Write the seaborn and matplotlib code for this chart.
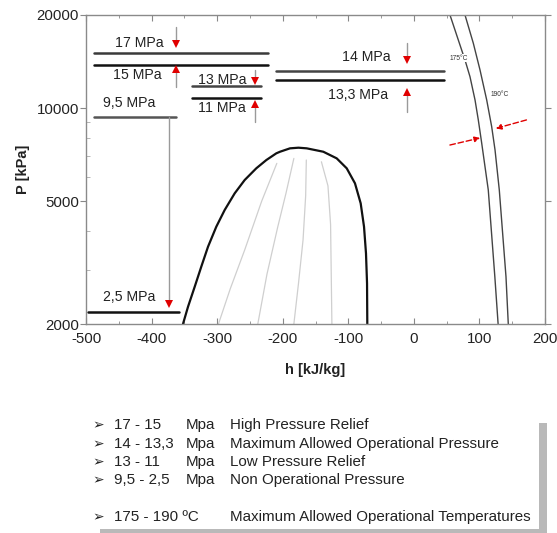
import numpy as np
import matplotlib
matplotlib.use("Agg")
import matplotlib.pyplot as plt
from matplotlib.patches import Rectangle
from matplotlib.ticker import FixedLocator, FixedFormatter, MultipleLocator, NullFormatter
import seaborn as sns

sns.set_style("ticks")
plt.rcParams['font.family'] = ['Liberation Sans', 'DejaVu Sans']
plt.rcParams['axes.unicode_minus'] = False

# ---------------- data ----------------
# saturation dome (h [kJ/kg], P [kPa])
dome_h = [-352.1, -344.4, -334.2, -324.2, -313.9, -301.3, -288.5, -273.2, -258.0, -240.3,
          -225.0, -209.8, -204.1, -188.9, -176.0, -163.4, -138.1, -117.7, -102.4, -89.8,
          -81.1, -76.0, -73.0, -71.4, -71.0]
dome_p = [2000, 2275, 2641, 3065, 3558, 4129, 4677, 5297, 5848, 6381,
          6786, 7134, 7220, 7405, 7440, 7405, 7220, 6873, 6381, 5706,
          4916, 4129, 3386, 2708, 2000]

# quality lines inside dome
q1_h = [-209, -232, -258, -280, -298]; q1_p = [6620, 5000, 3472, 2600, 2000]
q2_h = [-183, -195, -207.5, -224, -238]; q2_p = [6870, 5300, 4129, 2900, 2000]
q3_h = [-164, -165, -169, -176, -183]; q3_p = [6790, 5200, 3740, 2700, 2000]
q4_h = [-141, -131, -127, -126, -125]; q4_p = [6700, 5600, 4200, 2900, 2000]

# isotherms
iso175_h = [55.1, 67.8, 78.0, 85.6, 93.3, 98.3, 103.5, 108.5, 113.5, 123.5, 128.5]
iso175_p = [20000, 16600, 14300, 12630, 10615, 9146, 7688, 6459, 5429, 2845, 2000]
iso190_h = [78.0, 90.7, 100.9, 111.1, 118.7, 123.8, 130.3, 140.5, 144.0]
iso190_p = [20000, 16200, 13275, 10615, 8699, 7314, 5429, 2845, 2000]

# pressure levels (as drawn)
level_labels = ['17 MPa', '15 MPa', '13 MPa', '11 MPa', '14 MPa', '13,3 MPa', '9,5 MPa', '2,5 MPa']
level_p = [15070, 13770, 11780, 10750, 13200, 12320, 9370, 2183]
level_h0 = [-488, -488, -338, -338, -210, -210, -488, -497]
level_h1 = [-223, -223, -233, -233, 46, 46, -363, -358]
label_h = [-456, -459, -329, -329, -110, -131, -474, -474]
label_p = [16230, 12790, 12330, 10000, 14620, 11020, 10380, 2443]

# arrows: stem (h, p_from, p_to) and head direction
arrow_h = [-363, -363, -242, -242, -10.5, -10.5, -373]
arrow_stem_p0 = [18290, 13370, 13280, 10300, 16230, 11270, 9370]
arrow_head_p = [16110, 13370, 12220, 10300, 14290, 11270, 2330]
arrow_stem_p1 = [16110, 11690, 12220, 9010, 14290, 9700, 2330]
arrow_dir = ['v', '^', 'v', '^', 'v', '^', 'v']

# legend texts
legend_ranges = ['17 - 15', '14 - 13,3', '13 - 11', '9,5 - 2,5', '175 - 190 ºC']
legend_units = ['Mpa', 'Mpa', 'Mpa', 'Mpa', '']
legend_desc = ['High Pressure Relief', 'Maximum Allowed Operational Pressure',
               'Low Pressure Relief', 'Non Operational Pressure',
               'Maximum Allowed Operational Temperatures']

# ---------------- figure ----------------
W, H = 557, 533
fig = plt.figure(figsize=(W / 100, H / 100), dpi=100)
ax = fig.add_axes([86 / W, 1 - 324 / H, (545 - 86) / W, (324 - 15) / H])
ax.set_yscale('log')


def seg(x, y, **kw):
    sns.lineplot(x=x, y=y, sort=False, estimator=None, ax=ax, legend=False, **kw)


seg(dome_h, dome_p, color='#111111', lw=1.6)
for qh, qp in [(q1_h, q1_p), (q2_h, q2_p), (q3_h, q3_p), (q4_h, q4_p)]:
    seg(qh, qp, color='#cfcfcf', lw=0.9)
seg(iso175_h, iso175_p, color='#444444', lw=1.0)
seg(iso190_h, iso190_p, color='#444444', lw=1.0)

level_colors = ['#3a3a3a', '#111111', '#444444', '#111111', '#444444', '#111111', '#555555', '#111111']
for i in range(len(level_p)):
    seg([level_h0[i], level_h1[i]], [level_p[i], level_p[i]], color=level_colors[i], lw=1.8)
    ax.text(label_h[i], label_p[i], level_labels[i], fontsize=10.2, color='#222222',
            ha='left', va='center')

for i in range(len(arrow_h)):
    seg([arrow_h[i], arrow_h[i]], [arrow_stem_p0[i], arrow_stem_p1[i]], color='#9a9a9a', lw=1.0)
    ax.plot([arrow_h[i]], [arrow_head_p[i]], marker=arrow_dir[i], color='#e00000',
            markersize=6, markeredgewidth=0, zorder=5)

# isotherm labels
ax.text(68, 14480, '175°C', fontsize=4.8, ha='center', va='center', color='#333333',
        bbox=dict(facecolor='white', edgecolor='none', pad=0.3))
ax.text(131, 11020, '190°C', fontsize=4.8, ha='center', va='center', color='#333333',
        bbox=dict(facecolor='white', edgecolor='none', pad=0.3))

# red dashed arrows toward isotherms
ax.annotate('', xy=(101, 8000), xytext=(55, 7590),
            arrowprops=dict(arrowstyle='-|>', color='#e00000', lw=1.0, linestyle=(0, (4, 2)),
                            mutation_scale=8, shrinkA=0, shrinkB=0))
ax.annotate('', xy=(125, 8590), xytext=(171.7, 9150),
            arrowprops=dict(arrowstyle='-|>', color='#e00000', lw=1.0, linestyle=(0, (4, 2)),
                            mutation_scale=8, shrinkA=0, shrinkB=0))

ax.set_xlim(-500, 200)
ax.set_ylim(2000, 20000)
ax.yaxis.set_major_locator(FixedLocator([2000, 5000, 10000, 20000]))
ax.yaxis.set_major_formatter(FixedFormatter(['2000', '5000', '10000', '20000']))
ax.yaxis.set_minor_formatter(NullFormatter())
ax.xaxis.set_major_locator(MultipleLocator(100))
ax.xaxis.set_minor_locator(MultipleLocator(50))

ax.tick_params(axis='x', which='both', direction='in', top=True, labelsize=10.8,
               colors='#888888', labelcolor='#222222', pad=6)
ax.tick_params(axis='x', which='major', length=4)
ax.tick_params(axis='x', which='minor', length=2.5)
ax.tick_params(axis='y', which='major', direction='out', right=True, length=4,
               labelsize=10.8, colors='#888888', labelcolor='#222222', pad=1)
ax.tick_params(axis='y', which='minor', direction='in', right=False, length=3, colors='#aaaaaa')
for s in ax.spines.values():
    s.set_color('#8a8a8a')
    s.set_linewidth(1.0)

ax.set_xlabel('h [kJ/kg]', fontsize=10.5, fontweight='bold', color='#222222')
ax.set_ylabel('P [kPa]', fontsize=10.5, fontweight='bold', color='#222222', va='center')
ax.xaxis.set_label_coords(0.5, -0.125)
ax.yaxis.set_label_coords(-0.137, 0.5)

# ---------------- legend box (figure pixel coordinates) ----------------
ov = fig.add_axes([0, 0, 1, 1], zorder=-1)
ov.set_xlim(0, W)
ov.set_ylim(H, 0)
ov.axis('off')
ov.add_patch(Rectangle((539, 423), 8, 110, color='#b9b9b9', lw=0))
ov.add_patch(Rectangle((100, 529), 447, 4, color='#b9b9b9', lw=0))
rows_y = [425, 444, 462, 480, 517]
for i in range(len(legend_ranges)):
    y = rows_y[i]
    ov.text(92, y, '➢', fontsize=10, va='center', ha='left', color='#222222',
            family=['DejaVu Sans'])
    ov.text(114, y, legend_ranges[i], fontsize=10.9, va='center', ha='left', color='#222222')
    if legend_units[i]:
        ov.text(186, y, legend_units[i], fontsize=10.9, va='center', ha='left', color='#222222')
    ov.text(230, y, legend_desc[i], fontsize=10.9, va='center', ha='left', color='#222222')

fig.savefig('out.png', dpi=100)
